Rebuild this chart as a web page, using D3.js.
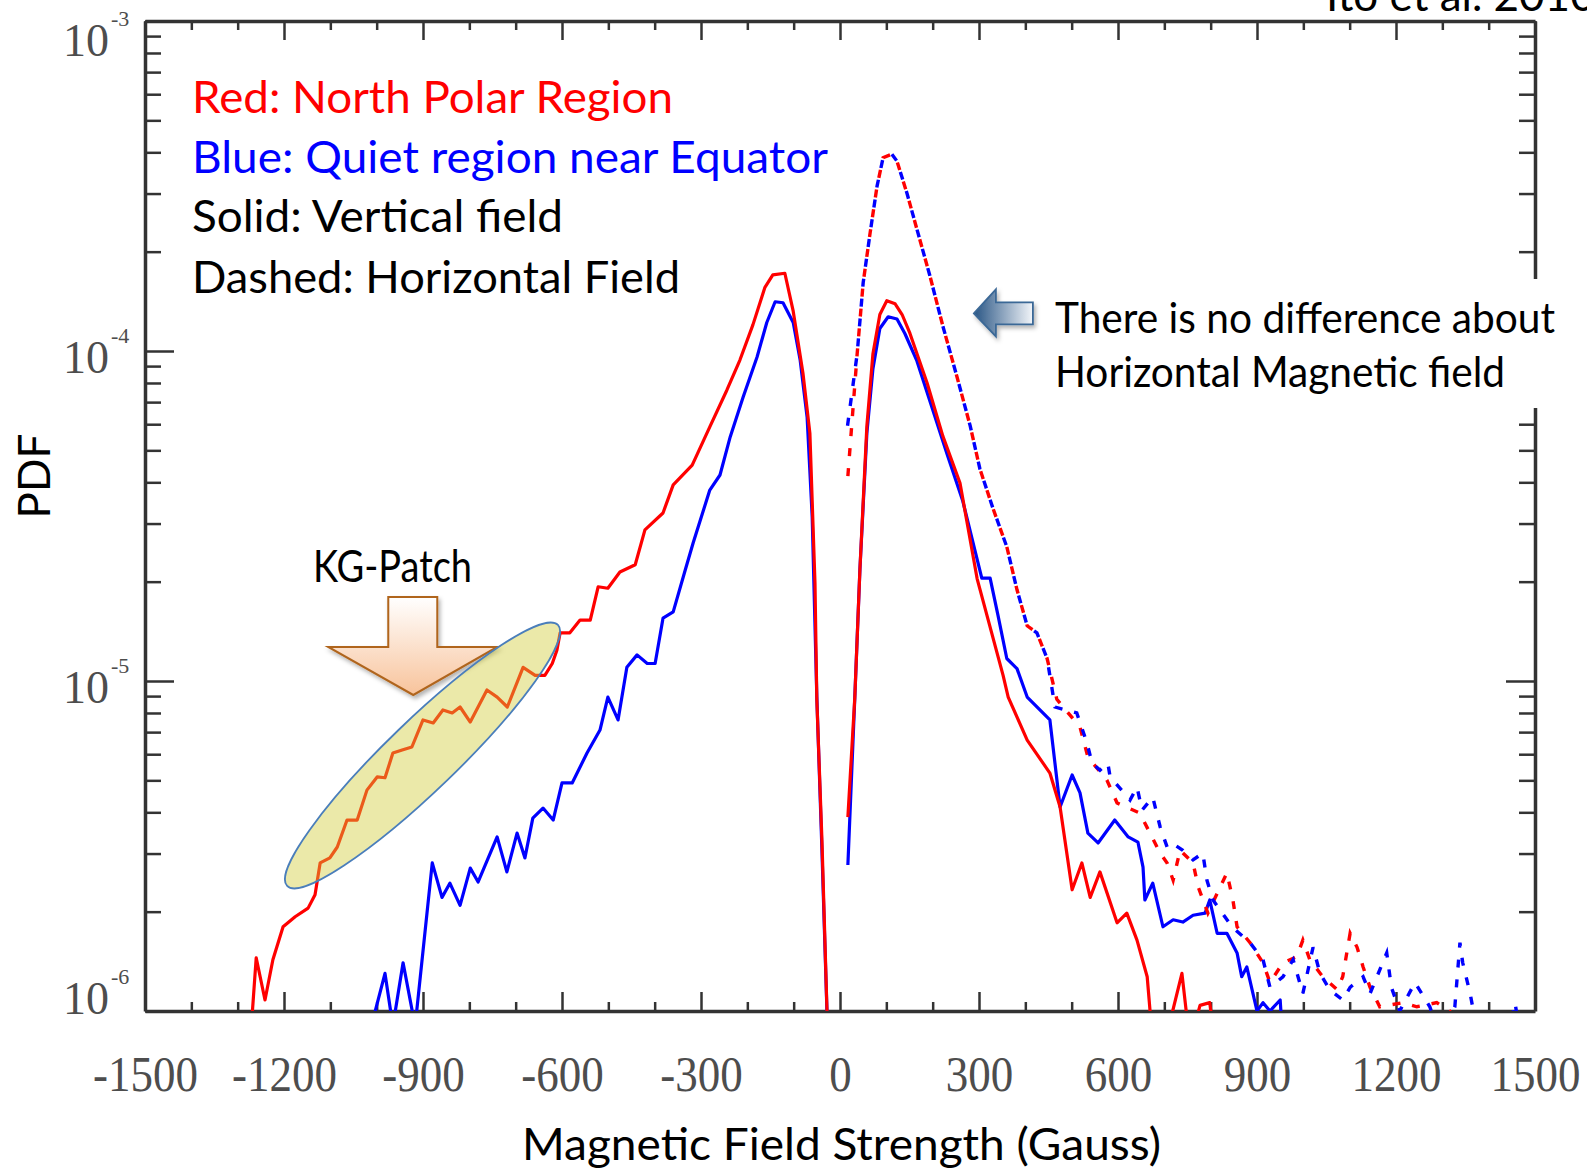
<!DOCTYPE html>
<html>
<head>
<meta charset="utf-8">
<script src="https://cdn.jsdelivr.net/npm/d3@7"></script>
<style>
  body { margin: 0; background: #fff; }
  svg { display: block; }
</style>
</head>
<body>
<script>
// tick values and labels
var xMajor = [-1500, -1200, -900, -600, -300, 0, 300, 600, 900, 1200, 1500];
var yMajor = [1e-6, 1e-5, 1e-4, 1e-3];

// PDF vs field strength (Gauss)
// North polar region, vertical field (solid red)
var redVertical = [
    [-1273, 8e-7], [-1260, 1.45e-6], [-1241, 1.08e-6], [-1224, 1.43e-6], [-1202, 1.80e-6],
    [-1176, 1.93e-6], [-1148, 2.05e-6], [-1133, 2.25e-6], [-1122, 2.81e-6], [-1101, 2.91e-6],
    [-1085, 3.14e-6], [-1064, 3.79e-6], [-1042, 3.79e-6], [-1021, 4.67e-6], [-999, 5.12e-6],
    [-982, 5.09e-6], [-965, 6.05e-6], [-945, 6.18e-6], [-924, 6.31e-6], [-900, 7.62e-6],
    [-878, 7.46e-6], [-857, 8.17e-6], [-837, 8.00e-6], [-820, 8.34e-6], [-798, 7.51e-6],
    [-762, 9.39e-6], [-740, 8.94e-6], [-718, 8.34e-6], [-684, 1.10e-5], [-658, 1.04e-5],
    [-637, 1.04e-5], [-621, 1.13e-5], [-611, 1.24e-5], [-604, 1.40e-5], [-583, 1.40e-5],
    [-561, 1.53e-5], [-539, 1.53e-5], [-522, 1.93e-5], [-501, 1.91e-5], [-475, 2.14e-5],
    [-442, 2.25e-5], [-421, 2.87e-5], [-382, 3.23e-5], [-360, 3.93e-5], [-319, 4.51e-5],
    [-281, 5.89e-5], [-244, 7.62e-5], [-216, 9.39e-5], [-188, 1.20e-4], [-162, 1.56e-4],
    [-145, 1.70e-4], [-119, 1.72e-4], [-101, 1.32e-4], [-80, 8.58e-5], [-65, 5.64e-5],
    [-54, 1.98e-5], [-50, 8.76e-6], [-39, 3.3e-6], [-26, 8e-7],
    null,
    [17, 3.87e-6], [32, 8.94e-6], [43, 2.18e-5], [58, 5.93e-5], [71, 9.79e-5],
    [86, 1.29e-4], [101, 1.42e-4], [119, 1.39e-4], [134, 1.29e-4], [151, 1.13e-4],
    [188, 8.0e-5], [222, 5.52e-5], [259, 3.98e-5], [296, 2.04e-5], [352, 1.04e-5],
    [363, 8.94e-6], [404, 6.62e-6], [453, 5.26e-6], [475, 4.15e-6], [501, 2.33e-6],
    [522, 2.81e-6], [540, 2.21e-6], [561, 2.64e-6], [598, 1.85e-6], [619, 1.98e-6],
    [641, 1.64e-6], [663, 1.27e-6], [675, 8e-7], [701, 8e-7], [738, 1.30e-6],
    [755, 8e-7], [777, 1.04e-6], [798, 1.06e-6], [809, 8e-7]
];

// quiet region near equator, vertical field (solid blue)
var blueVertical = [
    [-1021, 8e-7], [-982, 1.30e-6], [-965, 9e-7], [-943, 1.40e-6], [-917, 9e-7],
    [-880, 2.81e-6], [-859, 2.21e-6], [-842, 2.44e-6], [-820, 2.09e-6], [-798, 2.71e-6],
    [-781, 2.46e-6], [-740, 3.37e-6], [-719, 2.64e-6], [-697, 3.46e-6], [-680, 2.91e-6],
    [-663, 3.84e-6], [-641, 4.12e-6], [-619, 3.79e-6], [-600, 4.91e-6], [-578, 4.91e-6],
    [-546, 6.05e-6], [-518, 7.10e-6], [-501, 8.94e-6], [-479, 7.62e-6], [-460, 1.10e-5],
    [-438, 1.20e-5], [-416, 1.13e-5], [-399, 1.13e-5], [-382, 1.55e-5], [-360, 1.62e-5],
    [-334, 2.17e-5], [-317, 2.62e-5], [-281, 3.79e-5], [-259, 4.21e-5], [-237, 5.49e-5],
    [-209, 7.26e-5], [-179, 9.59e-5], [-158, 1.22e-4], [-140, 1.41e-4], [-123, 1.40e-4],
    [-101, 1.22e-4], [-86, 9.39e-5], [-71, 6.31e-5], [-60, 3.14e-5], [-50, 8.94e-6],
    [-39, 3.07e-6], [-26, 8e-7],
    null,
    [17, 2.77e-6], [32, 8.94e-6], [43, 2.18e-5], [58, 5.64e-5], [71, 8.82e-5],
    [86, 1.17e-4], [104, 1.27e-4], [123, 1.25e-4], [140, 1.13e-4], [166, 9.33e-5],
    [194, 7.05e-5], [231, 4.87e-5], [265, 3.51e-5], [306, 2.05e-5], [324, 2.05e-5],
    [341, 1.58e-5], [360, 1.17e-5], [382, 1.09e-5], [404, 8.94e-6], [453, 7.62e-6],
    [475, 4.15e-6], [501, 5.19e-6], [518, 4.58e-6], [535, 3.46e-6], [557, 3.23e-6],
    [593, 3.79e-6], [622, 3.37e-6], [643, 3.25e-6], [654, 2.73e-6], [658, 2.17e-6],
    [675, 2.44e-6], [697, 1.80e-6], [719, 1.89e-6], [740, 1.86e-6], [762, 1.95e-6],
    [788, 1.98e-6], [798, 2.17e-6], [814, 1.72e-6], [835, 1.72e-6], [857, 1.50e-6],
    [867, 1.27e-6], [878, 1.36e-6], [900, 1.0e-6], [913, 1.06e-6], [928, 1.0e-6],
    [950, 1.08e-6], [956, 8e-7]
];

// north polar region, horizontal field (dashed red)
var redHorizontal = [
    [17, 4.18e-5], [37, 9.79e-5], [50, 1.61e-4], [65, 2.28e-4], [80, 3.16e-4],
    [93, 3.85e-4], [112, 3.95e-4], [123, 3.76e-4], [145, 2.99e-4], [166, 2.34e-4],
    [194, 1.69e-4], [222, 1.19e-4], [252, 8.40e-5], [281, 5.93e-5], [302, 4.39e-5],
    [330, 3.34e-5], [360, 2.55e-5], [382, 1.89e-5], [404, 1.47e-5], [425, 1.40e-5],
    [447, 1.17e-5], [468, 8.8e-6], [518, 7.25e-6], [535, 5.88e-6], [576, 5.01e-6],
    [598, 4.27e-6], [647, 3.98e-6], [669, 3.46e-6], [691, 3.01e-6], [706, 2.81e-6],
    [719, 2.49e-6], [734, 3.07e-6], [762, 2.81e-6], [773, 2.38e-6], [794, 1.98e-6],
    [835, 2.62e-6], [848, 2.17e-6], [857, 1.80e-6], [885, 1.61e-6], [913, 1.40e-6],
    [928, 1.22e-6], [956, 1.40e-6], [986, 1.46e-6], [999, 1.64e-6], [1014, 1.43e-6],
    [1042, 1.27e-6], [1073, 1.16e-6], [1085, 1.27e-6], [1101, 1.72e-6], [1116, 1.56e-6],
    [1129, 1.36e-6], [1144, 1.18e-6], [1165, 1.03e-6], [1215, 1.06e-6], [1245, 1.03e-6],
    [1288, 1.06e-6], [1316, 1.0e-6], [1330, 8e-7]
];

// quiet region near equator, horizontal field (dashed blue)
var blueHorizontal = [
    [15, 5.76e-5], [37, 9.79e-5], [50, 1.61e-4], [65, 2.28e-4], [80, 3.16e-4],
    [93, 3.85e-4], [112, 3.95e-4], [123, 3.76e-4], [145, 2.99e-4], [166, 2.34e-4],
    [194, 1.69e-4], [222, 1.19e-4], [252, 8.40e-5], [281, 5.93e-5], [302, 4.39e-5],
    [330, 3.34e-5], [360, 2.55e-5], [382, 1.89e-5], [404, 1.47e-5], [425, 1.40e-5],
    [447, 1.17e-5], [464, 8.34e-6], [511, 8.00e-6], [533, 6.49e-6], [544, 5.64e-6],
    [561, 5.37e-6], [578, 5.64e-6], [583, 5.12e-6], [626, 4.36e-6], [641, 4.77e-6],
    [652, 4.06e-6], [675, 4.45e-6], [691, 3.61e-6], [706, 3.14e-6], [716, 3.23e-6],
    [740, 3.07e-6], [762, 2.87e-6], [783, 3.01e-6], [792, 2.49e-6], [805, 2.17e-6],
    [846, 1.80e-6], [885, 1.61e-6], [913, 1.43e-6], [928, 1.18e-6], [956, 1.27e-6],
    [978, 1.43e-6], [999, 1.13e-6], [1021, 1.56e-6], [1036, 1.30e-6], [1057, 1.16e-6],
    [1085, 1.08e-6], [1101, 1.18e-6], [1129, 1.27e-6], [1144, 1.13e-6], [1180, 1.50e-6],
    [1190, 1.18e-6], [1208, 1.0e-6], [1241, 1.22e-6], [1273, 1.03e-6], [1300, 8e-7],
    [1327, 1.03e-6], [1338, 1.61e-6], [1344, 1.40e-6], [1360, 1.13e-6], [1380, 8e-7],
    [1440, 8e-7], [1457, 1.06e-6], [1470, 8e-7]
];

var width = 1587,
    height = 1168,
    margin = { top: 21, right: 52, bottom: 157, left: 145 };

var x = d3.scaleLinear().domain([-1500, 1500]).range([margin.left, width - margin.right]);
var y = d3.scaleLog().domain([1e-6, 1e-3]).range([height - margin.bottom, margin.top]);

var xMinor = d3.range(-1400, 1500, 100).filter(d => d % 300 !== 0);
var yMinor = [];
yMajor.slice(0, -1).forEach(function (d) {
    for (var k = 2; k < 10; k++) yMinor.push(d * k);
});

var svg = d3.select("body").append("svg")
    .attr("width", width)
    .attr("height", height);

var defs = svg.append("defs");
defs.append("clipPath").attr("id", "plot")
    .append("rect")
    .attr("x", margin.left).attr("y", margin.top)
    .attr("width", width - margin.left - margin.right)
    .attr("height", height - margin.top - margin.bottom);

var shadow = defs.append("filter").attr("id", "shadow")
    .attr("x", "-20%").attr("y", "-20%").attr("width", "150%").attr("height", "150%");
shadow.append("feDropShadow")
    .attr("dx", 2).attr("dy", 3).attr("stdDeviation", 2)
    .attr("flood-color", "#000").attr("flood-opacity", 0.3);

var orangeGrad = defs.append("linearGradient").attr("id", "orangeGrad")
    .attr("x1", 0).attr("y1", 0).attr("x2", 0).attr("y2", 1);
orangeGrad.append("stop").attr("offset", "0%").attr("stop-color", "#ffffff");
orangeGrad.append("stop").attr("offset", "100%").attr("stop-color", "#f8c39b");

var blueGrad = defs.append("linearGradient").attr("id", "blueGrad")
    .attr("x1", 0).attr("y1", 0).attr("x2", 1).attr("y2", 0);
blueGrad.append("stop").attr("offset", "0%").attr("stop-color", "#2a5685");
blueGrad.append("stop").attr("offset", "100%").attr("stop-color", "#f2f5f9");

// axes
var axisColor = "#333";
var yb = height - margin.bottom;
var xr = width - margin.right;

function styleAxis(g) {
    g.select(".domain").attr("stroke", axisColor).attr("stroke-width", 3.5);
    g.selectAll(".tick line").attr("stroke", axisColor).attr("stroke-width", 2.5);
}

svg.append("g")
    .attr("transform", "translate(0," + yb + ")")
    .call(d3.axisBottom(x).tickValues(xMajor).tickSize(-19).tickSizeOuter(0)
        .tickFormat(d => String(d)))
    .call(styleAxis)
    .call(g => g.selectAll(".tick text")
        .attr("y", 80).attr("dy", null)
        .attr("font-family", "Liberation Serif, Times New Roman, serif")
        .attr("font-size", 50)
        .attr("fill", "#4d4d4d")
        .attr("transform", "scale(0.9,1)"));

svg.append("g")
    .attr("transform", "translate(0," + yb + ")")
    .call(d3.axisBottom(x).tickValues(xMinor).tickSize(-9).tickFormat(""))
    .call(styleAxis)
    .call(g => g.select(".domain").remove());

svg.append("g")
    .attr("transform", "translate(0," + margin.top + ")")
    .call(d3.axisTop(x).tickValues(xMajor).tickSize(-19).tickSizeOuter(0).tickFormat(""))
    .call(styleAxis);

svg.append("g")
    .attr("transform", "translate(0," + margin.top + ")")
    .call(d3.axisTop(x).tickValues(xMinor).tickSize(-9).tickFormat(""))
    .call(styleAxis)
    .call(g => g.select(".domain").remove());

var labelShift = d => d === 1e-3 ? 34 : (d === 1e-6 ? 2 : 21);

svg.append("g")
    .attr("transform", "translate(" + margin.left + ",0)")
    .call(d3.axisLeft(y).tickValues(yMajor).tickSize(-29).tickSizeOuter(0))
    .call(styleAxis)
    .call(function (g) {
        g.selectAll(".tick text").each(function (d) {
            var t = d3.select(this);
            t.text("10")
                .attr("x", -82).attr("y", labelShift(d)).attr("dy", null)
                .attr("text-anchor", "start")
                .attr("font-family", "Liberation Serif, Times New Roman, serif")
                .attr("font-size", 46)
                .attr("fill", "#4d4d4d");
            t.append("tspan")
                .attr("dx", 2).attr("dy", -30)
                .attr("font-size", 22)
                .text(String(Math.round(Math.log10(d))));
        });
    });

svg.append("g")
    .attr("transform", "translate(" + margin.left + ",0)")
    .call(d3.axisLeft(y).tickValues(yMinor).tickSize(-16).tickFormat(""))
    .call(styleAxis)
    .call(g => g.select(".domain").remove());

svg.append("g")
    .attr("transform", "translate(" + xr + ",0)")
    .call(d3.axisRight(y).tickValues(yMajor).tickSize(-29).tickSizeOuter(0).tickFormat(""))
    .call(styleAxis);

svg.append("g")
    .attr("transform", "translate(" + xr + ",0)")
    .call(d3.axisRight(y).tickValues(yMinor).tickSize(-16).tickFormat(""))
    .call(styleAxis)
    .call(g => g.select(".domain").remove());

// curves
var line = d3.line()
    .defined(d => d !== null)
    .x(d => x(d[0]))
    .y(d => y(d[1]));

var plot = svg.append("g").attr("clip-path", "url(#plot)");

plot.append("path").datum(blueVertical)
    .attr("fill", "none").attr("stroke", "#0000ff").attr("stroke-width", 3.2)
    .attr("stroke-linejoin", "round").attr("d", line);
plot.append("path").datum(redVertical)
    .attr("fill", "none").attr("stroke", "#ff0000").attr("stroke-width", 3.2)
    .attr("stroke-linejoin", "round").attr("d", line);

// the two dashed curves share their rise, so shift the blue dashes
// to fall in the gaps of the red ones there
var seg = (a, b) => Math.hypot(x(b[0]) - x(a[0]), y(b[1]) - y(a[1]));
var lenR = seg(redHorizontal[0], redHorizontal[1]);
var lenB = seg(blueHorizontal[0], blueHorizontal[1]);

plot.append("path").datum(redHorizontal)
    .attr("fill", "none").attr("stroke", "#ff0000").attr("stroke-width", 3.4)
    .attr("stroke-dasharray", "8,12").attr("d", line);
plot.append("path").datum(blueHorizontal)
    .attr("fill", "none").attr("stroke", "#0000ff").attr("stroke-width", 3.4)
    .attr("stroke-dasharray", "8,12")
    .attr("stroke-dashoffset", lenR - lenB + 10)
    .attr("d", line);

// KG-Patch arrow (down)
var ox = x(-921), oy = y(9.07e-6);
svg.append("path")
    .attr("d", "M" + (ox - 25) + "," + (oy - 98) + "h49v50h60L" + ox + "," + oy +
        "L" + (ox - 85) + "," + (oy - 48) + "h60Z")
    .attr("fill", "url(#orangeGrad)")
    .attr("stroke", "#b0651f").attr("stroke-width", 2)
    .attr("filter", "url(#shadow)");

// highlighted ellipse
var e0 = [x(-1187), y(2.44e-6)], e1 = [x(-615), y(1.45e-5)];
var ecx = (e0[0] + e1[0]) / 2, ecy = (e0[1] + e1[1]) / 2;
var eang = Math.atan2(e1[1] - e0[1], e1[0] - e0[0]) * 180 / Math.PI;
var erx = Math.hypot(e1[0] - e0[0], e1[1] - e0[1]) / 2 + 4;
svg.append("ellipse")
    .attr("cx", ecx).attr("cy", ecy)
    .attr("rx", erx).attr("ry", 35)
    .attr("transform", "rotate(" + eang + "," + ecx + "," + ecy + ")")
    .attr("fill", "rgb(210,204,59)").attr("fill-opacity", 0.44)
    .attr("stroke", "#4a7ebb").attr("stroke-width", 1.8);

// blue arrow (left)
var bx = x(289), by = y(1.30e-4);
svg.append("path")
    .attr("d", "M" + bx + "," + by + "l22,-24v13h37v22h-37v12Z")
    .attr("fill", "url(#blueGrad)")
    .attr("stroke", "#3b6896").attr("stroke-width", 1.8)
    .attr("filter", "url(#shadow)");

// text box hides the right frame
svg.append("rect")
    .attr("x", 1042).attr("y", 279)
    .attr("width", width - 1042).attr("height", 129)
    .attr("fill", "#fff");

// text
var font = "Lato, Calibri, 'Open Sans', sans-serif";
function label(tx, ty, str, color, len, size) {
    var t = svg.append("text")
        .attr("x", tx).attr("y", ty)
        .attr("font-family", font)
        .attr("font-size", size || 44)
        .attr("fill", color)
        .text(str);
    if (len) t.attr("textLength", len).attr("lengthAdjust", "spacingAndGlyphs");
    return t;
}

label(192, 113, "Red: North Polar Region", "#ff0000", 481);
label(192, 173, "Blue: Quiet region near Equator", "#0000ff", 636);
label(192, 232, "Solid: Vertical field", "#000", 371);
label(192, 293, "Dashed: Horizontal Field", "#000", 488);
label(1055, 333, "There is no difference about", "#000", 500, 42);
label(1055, 387, "Horizontal Magnetic field", "#000", 450, 42);
label(313, 582, "KG-Patch", "#000", 159);
label(1326, 11, "Ito et al. 2010", "#000");
label(522, 1160, "Magnetic Field Strength (Gauss)", "#000", 639);

svg.append("text")
    .attr("transform", "translate(50,476) rotate(-90)")
    .attr("text-anchor", "middle")
    .attr("font-family", font)
    .attr("font-size", 44)
    .attr("fill", "#000")
    .text("PDF");
</script>
</body>
</html>
